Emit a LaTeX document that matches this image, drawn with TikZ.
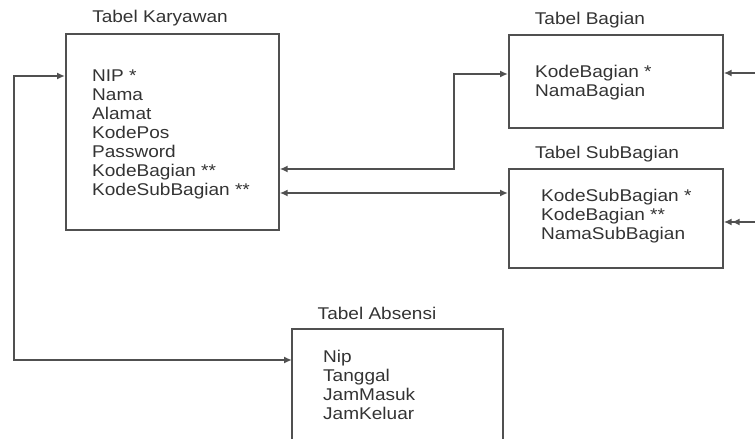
\documentclass[tikz,border=0pt]{standalone}
\usepackage{fontspec}
\setmainfont[FakeStretch=1.12]{Liberation Sans}
\usetikzlibrary{arrows.meta}
\definecolor{linec}{HTML}{505050}
\definecolor{textc}{HTML}{333333}
\begin{document}
\begin{tikzpicture}[x=1pt,y=-1pt,
  tbl/.style={draw=linec,line width=1.7pt,inner sep=0pt,minimum width=#1},
  ttl/.style={text=textc,font=\fontsize{17}{19}\selectfont,inner sep=0pt,anchor=base},
  fld/.style={text=textc,font=\fontsize{17}{19}\selectfont,inner sep=0pt,anchor=north west,align=left},
  conn/.style={draw=linec,line width=1.6pt},
  tip/.tip={Latex[length=8pt,width=7pt]}]
\useasboundingbox (0,0) rectangle (755,439);
% boxes
\node[tbl=213pt,minimum height=196pt,anchor=north west] (kar) at (65,33) {};
\node[tbl=214pt,minimum height=93pt,anchor=north west] (bag) at (508,34) {};
\node[tbl=214pt,minimum height=99pt,anchor=north west] (sub) at (508,168) {};
\draw[linec,line width=1.7pt] (292,445) -- (292,329) -- (503,329) -- (503,445);
\coordinate (absL) at (292,360);
% titles
\node[ttl] (tkar) at (160,23) {Tabel Karyawan};
\node[ttl] (tbag) at (590,24) {Tabel Bagian};
\node[ttl] (tsub) at (607,158) {Tabel SubBagian};
\node[ttl] (tabs) at (377,319) {Tabel Absensi};
% fields
\node[fld] (fkar) at (92,70) {NIP *\\Nama\\Alamat\\KodePos\\Password\\KodeBagian **\\KodeSubBagian **};
\node[fld] (fbag) at (535,65) {KodeBagian *\\NamaBagian};
\node[fld] (fsub) at (541,189) {KodeSubBagian *\\KodeBagian **\\NamaSubBagian};
\node[fld] (fabs) at (323,350) {Nip\\Tanggal\\JamMasuk\\JamKeluar};
% connectors
\coordinate (lc1) at (14,76);
\coordinate (lc2) at (14,360);
\draw[conn,-tip] (lc2) -- (lc1) -- (kar.west |- lc1);
\draw[conn,-tip] (lc1) -- (lc2) -- (absL);
\draw[conn,tip-tip] (kar.east |- 0,169) -- (454,169) -- (454,74) -- (bag.west |- 0,74);
\draw[conn,tip-tip] (kar.east |- 0,193) -- (sub.west |- 0,193);
\coordinate (rb) at (755,73);
\coordinate (rs) at (755,222);
\draw[conn,-tip] (rb) -- (bag.east |- rb);
\draw[conn,-{Latex[length=8pt,width=7pt]Latex[length=8pt,width=7pt]}] (rs) -- (sub.east |- rs);
\end{tikzpicture}
\end{document}
